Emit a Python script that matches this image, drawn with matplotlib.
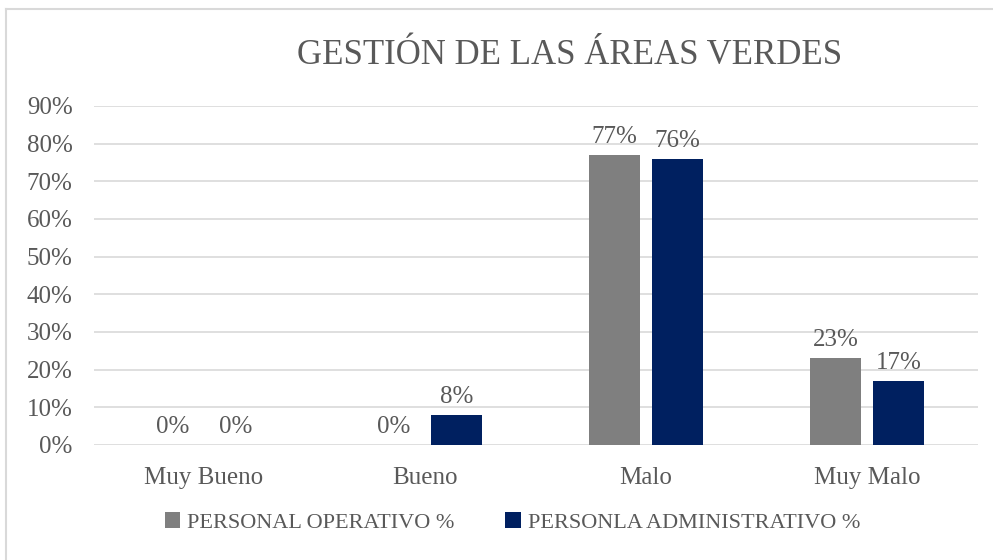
import numpy as np
import matplotlib.pyplot as plt
from matplotlib.lines import Line2D

# Datos
categorias = ["Muy Bueno", "Bueno", "Malo", "Muy Malo"]
operativo = [0, 0, 77, 23]
administrativo = [0, 8, 76, 17]
series_nombres = ["PERSONAL OPERATIVO %", "PERSONLA ADMINISTRATIVO %"]
yticks = [0, 10, 20, 30, 40, 50, 60, 70, 80, 90]

plt.rcParams['font.family'] = ['Liberation Serif', 'DejaVu Serif']

fig = plt.figure(figsize=(9.93, 5.60), dpi=100)
ax = fig.add_axes([0.0942, 0.2054, 0.8902, 0.6054])

x = np.arange(len(categorias))
ancho = 0.231
desp = 0.1425
gris = '#7f7f7f'
azul = '#002060'
texto = '#595959'

b1 = ax.bar(x - desp, operativo, ancho, color=gris, label=series_nombres[0], zorder=3)
b2 = ax.bar(x + desp, administrativo, ancho, color=azul, label=series_nombres[1], zorder=3)

for barras in (b1, b2):
    for r in barras:
        h = r.get_height()
        ax.text(r.get_x() + r.get_width() / 2, h + 1.9, f"{h:.0f}%",
                ha='center', va='bottom', fontsize=18, color=texto)

ax.set_xlim(-0.5, len(categorias) - 0.5)
ax.set_ylim(0, 90)
ax.set_yticks(yticks)
ax.set_yticklabels([f"{v}%" for v in yticks], fontsize=18, color=texto)
ax.set_xticks(x)
ax.set_xticklabels(categorias, fontsize=18, color=texto)
ax.tick_params(axis='both', length=0)
ax.tick_params(axis='x', pad=16)
ax.tick_params(axis='y', pad=15)
ax.grid(axis='y', color='#d9d9d9', linewidth=1.2, zorder=0)
for s in ax.spines.values():
    s.set_visible(False)

fig.text(0.5740, 0.900, "GESTIÓN DE LAS ÁREAS VERDES", ha='center', va='center',
         fontsize=25, color=texto)

ax.legend(loc='center', bbox_to_anchor=(0.5160, 0.0670), bbox_transform=fig.transFigure,
          ncol=2, frameon=False, fontsize=16, handlelength=0.7, handleheight=0.7,
          handletextpad=0.3, columnspacing=2.3, labelcolor=texto)

# borde exterior
fig.add_artist(Line2D([5.5 / 993, 5.5 / 993], [0, 1 - 9 / 560], transform=fig.transFigure,
                      color='#d9d9d9', linewidth=1.5))
fig.add_artist(Line2D([5.5 / 993, 1], [1 - 9 / 560, 1 - 9 / 560], transform=fig.transFigure,
                      color='#d9d9d9', linewidth=1.5))

fig.savefig("out.png", dpi=100)
